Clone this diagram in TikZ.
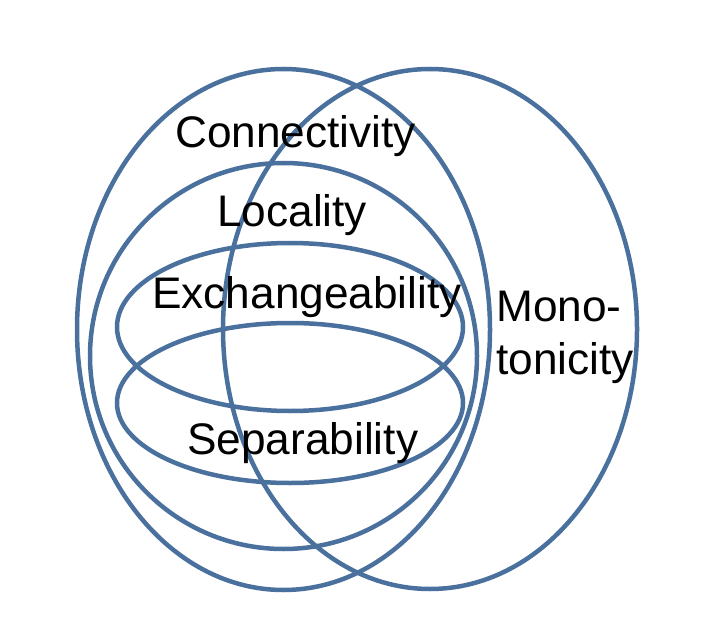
\documentclass[tikz,border=0pt]{standalone}
\usepackage{fontspec}
\setmainfont{Liberation Sans}
\definecolor{ring}{RGB}{74,112,158}
\begin{document}
\begin{tikzpicture}[x=1pt,y=-1pt,
  ring/.style={draw=ring,line width=4.5pt},
  lbl/.style={inner sep=0pt,anchor=base west,font=\fontsize{44.2pt}{50pt}\selectfont}]
\useasboundingbox (0,0) rectangle (703,617);
\coordinate (cC) at (283.5,329.5);
\coordinate (cM) at (430,329);
\coordinate (cL) at (283.5,356);
\coordinate (cE) at (290,327);
\coordinate (cS) at (290,403);
\draw[ring] (cC) ellipse [x radius=206.5pt, y radius=260.5pt];
\draw[ring] (cM) ellipse [x radius=207pt, y radius=260pt];
\draw[ring] (cL) ellipse [x radius=193.5pt, y radius=193pt];
\draw[ring] (cE) ellipse [x radius=173pt, y radius=84pt];
\draw[ring] (cS) ellipse [x radius=173pt, y radius=80pt];
\node[lbl] (tC) at (175,148) {Connectivity};
\node[lbl] (tL) at (217,227) {Locality};
\node[lbl] (tE) at (152,308) {Exchangeability};
\node[lbl] (tS) at (187,454) {Separability};
\node[lbl] (tM1) at (496,321) {Mono-};
\node[lbl] (tM2) at (496,374) {tonicity};
\end{tikzpicture}
\end{document}
